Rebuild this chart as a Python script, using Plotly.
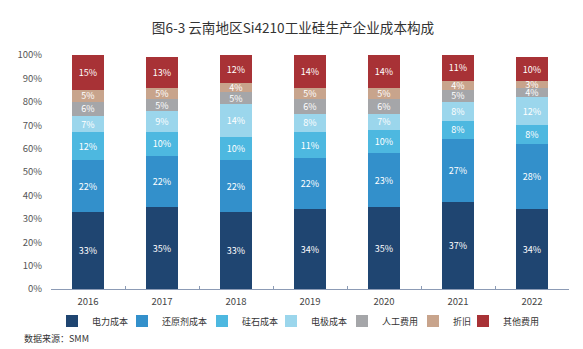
import plotly.graph_objects as go

years = ["2016", "2017", "2018", "2019", "2020", "2021", "2022"]
series_names = ["电力成本", "还原剂成本", "硅石成本", "电极成本", "人工费用", "折旧", "其他费用"]
power = [33, 35, 33, 34, 35, 37, 34]
reductant = [22, 22, 22, 22, 23, 27, 28]
silica = [12, 10, 10, 11, 10, 8, 8]
electrode = [7, 9, 14, 8, 7, 8, 12]
labor = [6, 5, 5, 6, 6, 5, 4]
depreciation = [5, 5, 4, 5, 5, 4, 3]
other = [15, 13, 12, 14, 14, 11, 10]
series_values = [power, reductant, silica, electrode, labor, depreciation, other]
colors = ["#1f4571", "#3390cb", "#4db8e0", "#9bd6ec", "#a5a6a9", "#c8a48c", "#a83236"]
# left pixel position of each legend entry's text
legend_text_px = [92, 162, 242, 311, 382, 453, 503]

FONT = "Noto Sans CJK SC, Noto Sans, sans-serif"
W, H = 583, 349
ML, MR, MT, MB = 51, 14, 55, 60
PW = W - ML - MR
PH = H - MT - MB

fig = go.Figure()
legend_layouts = {}
for i, (name, vals, col) in enumerate(zip(series_names, series_values, colors)):
    lg = "legend" if i == 0 else f"legend{i + 1}"
    fig.add_trace(go.Bar(
        name=name, x=years, y=vals,
        marker=dict(color=col, line=dict(width=0)),
        text=[f"{v}%" for v in vals],
        textposition="inside", insidetextanchor="middle",
        textangle=0, constraintext="none",
        textfont=dict(color="white", size=9, family=FONT),
        hoverinfo="skip", legend=lg, showlegend=True,
    ))
    box_left = legend_text_px[i] - 40
    legend_layouts[lg] = dict(
        orientation="h", xref="paper", yref="paper",
        x=(box_left - ML) / PW, xanchor="left",
        y=(MT + PH - 321) / PH, yanchor="middle",
        font=dict(size=9, color="#333", family=FONT),
        itemwidth=30, itemclick=False, itemdoubleclick=False,
        bgcolor="rgba(0,0,0,0)", borderwidth=0,
    )

fig.update_layout(
    barmode="stack",
    bargap=0.57,
    width=W, height=H,
    margin=dict(l=ML, r=MR, t=MT, b=MB, autoexpand=False),
    paper_bgcolor="white", plot_bgcolor="white",
    font=dict(family=FONT, size=10, color="#444"),
    title=dict(text="图6-3 云南地区Si4210工业硅生产企业成本构成", x=293 / W, xref="container",
               xanchor="center", y=1 - 28 / H, yanchor="middle", yref="container",
               font=dict(size=13.6, color="#333", family=FONT)),
    annotations=[dict(text="数据来源：SMM", xref="paper", yref="paper",
                      x=(22 - ML) / PW, y=(MT + PH - 338) / PH,
                      xanchor="left", yanchor="middle", showarrow=False,
                      font=dict(size=9, color="#333"))],
    **legend_layouts,
)
fig.update_xaxes(showline=True, linecolor="#8c9bb5", linewidth=1, ticks="inside",
                 tickson="boundaries", ticklen=3, tickcolor="#8c9bb5",
                 showgrid=False, tickfont=dict(size=9.5, color="#444"),
                 ticklabelstandoff=4)
fig.update_yaxes(range=[0, 100], dtick=10, ticksuffix="%", showgrid=False, showline=False,
                 zeroline=False, tickfont=dict(size=9.5, color="#555"), ticks="",
                 ticklabelstandoff=8)

fig.write_html("out.html")
